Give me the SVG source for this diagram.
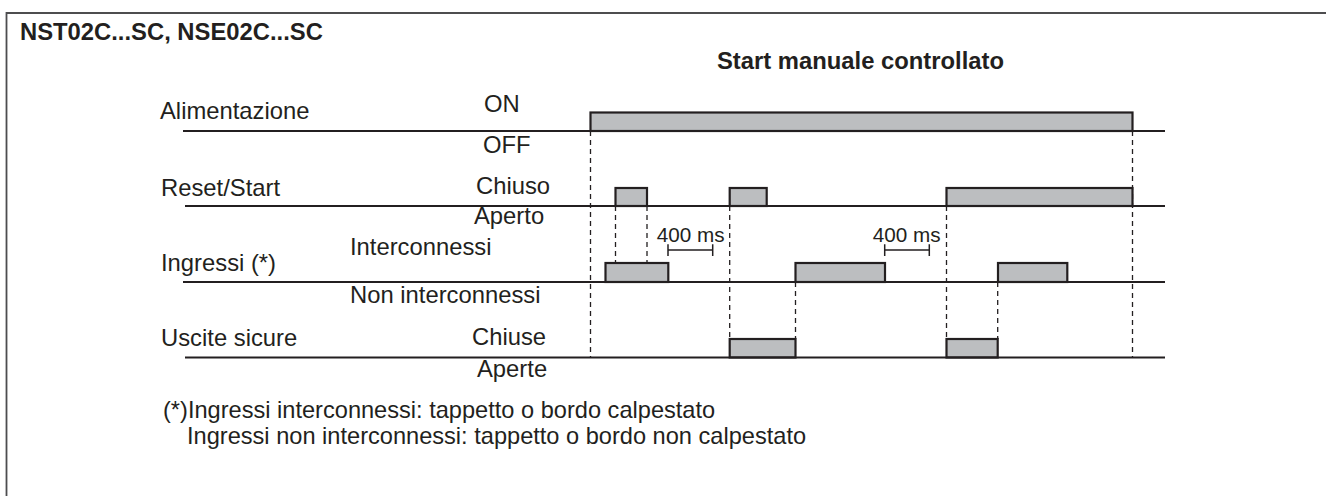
<svg xmlns="http://www.w3.org/2000/svg" width="1326" height="496" viewBox="0 0 1326 496">
<style>
  .lbl{font-family:"Liberation Sans",Arial,sans-serif;font-size:23.8px;fill:#231f20}
  .fn{font-family:"Liberation Sans",Arial,sans-serif;font-size:23.6px;fill:#231f20}
  .ttl{font-family:"Liberation Sans",Arial,sans-serif;font-size:23.8px;font-weight:bold;fill:#231f20}
  .ms{font-family:"Liberation Sans",Arial,sans-serif;font-size:20.7px;fill:#231f20}
  .base{stroke:#231f20;stroke-width:2.2;fill:none}
  .pulse{fill:#bcbec0;stroke:#231f20;stroke-width:2.2}
  .dash{stroke:#231f20;stroke-width:1.3;stroke-dasharray:5,4;fill:none}
  .bar{stroke:#231f20;stroke-width:1.5;fill:none}
  .frame{stroke:#4d4d4f;stroke-width:1.8;fill:none}
</style>
<rect width="1326" height="496" fill="#ffffff"/>
<g id="frame">
  <path class="frame" d="M6.5,500 V13 H1330"/>
</g>
<g id="titles">
  <text class="ttl" x="20" y="40">NST02C...SC, NSE02C...SC</text>
  <text class="ttl" x="717" y="69">Start manuale controllato</text>
</g>
<g id="labels">
  <text class="lbl" x="160" y="119">Alimentazione</text>
  <text class="lbl" x="484" y="112">ON</text>
  <text class="lbl" x="483" y="153">OFF</text>
  <text class="lbl" x="161" y="196">Reset/Start</text>
  <text class="lbl" x="476" y="194">Chiuso</text>
  <text class="lbl" x="474" y="224">Aperto</text>
  <text class="lbl" x="350" y="255">Interconnessi</text>
  <text class="lbl" x="161" y="271">Ingressi (*)</text>
  <text class="lbl" x="350" y="303">Non interconnessi</text>
  <text class="lbl" x="161" y="346">Uscite sicure</text>
  <text class="lbl" x="472" y="345">Chiuse</text>
  <text class="lbl" x="477" y="377">Aperte</text>
</g>
<g id="connectors">
  <path class="dash" d="M590.5,131 V357.5"/>
  <path class="dash" d="M615.5,206 V263"/>
  <path class="dash" d="M647,206 V263"/>
  <path class="dash" d="M729.7,206 V339"/>
  <path class="dash" d="M795.5,282 V339"/>
  <path class="dash" d="M946.5,206 V339"/>
  <path class="dash" d="M997.7,282 V339"/>
  <path class="dash" d="M1132.5,131 V357.5"/>
</g>
<g id="sig-alimentazione">
  <rect class="pulse" x="590.5" y="112.5" width="542" height="18.5"/>
  <path class="base" d="M183,131 H1165"/>
</g>
<g id="sig-reset">
  <rect class="pulse" x="615.5" y="188" width="31.5" height="18"/>
  <rect class="pulse" x="729.7" y="188" width="37" height="18"/>
  <rect class="pulse" x="946.5" y="188" width="186" height="18"/>
  <path class="base" d="M185,206 H1165"/>
</g>
<g id="sig-ingressi">
  <rect class="pulse" x="605.5" y="263" width="62.8" height="19"/>
  <rect class="pulse" x="795.5" y="263" width="89.5" height="19"/>
  <rect class="pulse" x="998" y="263" width="69.3" height="19"/>
  <path class="base" d="M183,282 H1165"/>
</g>
<g id="sig-uscite">
  <rect class="pulse" x="729.7" y="339" width="65.8" height="18.5"/>
  <rect class="pulse" x="946.5" y="339" width="51.2" height="18.5"/>
  <path class="base" d="M185,357.5 H1165"/>
</g>
<g id="timing-400ms-1">
  <text class="ms" x="656.7" y="241.5">400 ms</text>
  <path class="bar" d="M668,250 H712.7 M668,244.3 V256 M712.7,244.3 V256"/>
</g>
<g id="timing-400ms-2">
  <text class="ms" x="872.7" y="241.5">400 ms</text>
  <path class="bar" d="M884.7,250 H929.3 M884.7,244.3 V256 M929.3,244.3 V256"/>
</g>
<g id="footnote">
  <text class="fn" x="163" y="418">(*)Ingressi interconnessi: tappetto o bordo calpestato</text>
  <text class="fn" x="187" y="443.5">Ingressi non interconnessi: tappetto o bordo non calpestato</text>
</g>
</svg>
